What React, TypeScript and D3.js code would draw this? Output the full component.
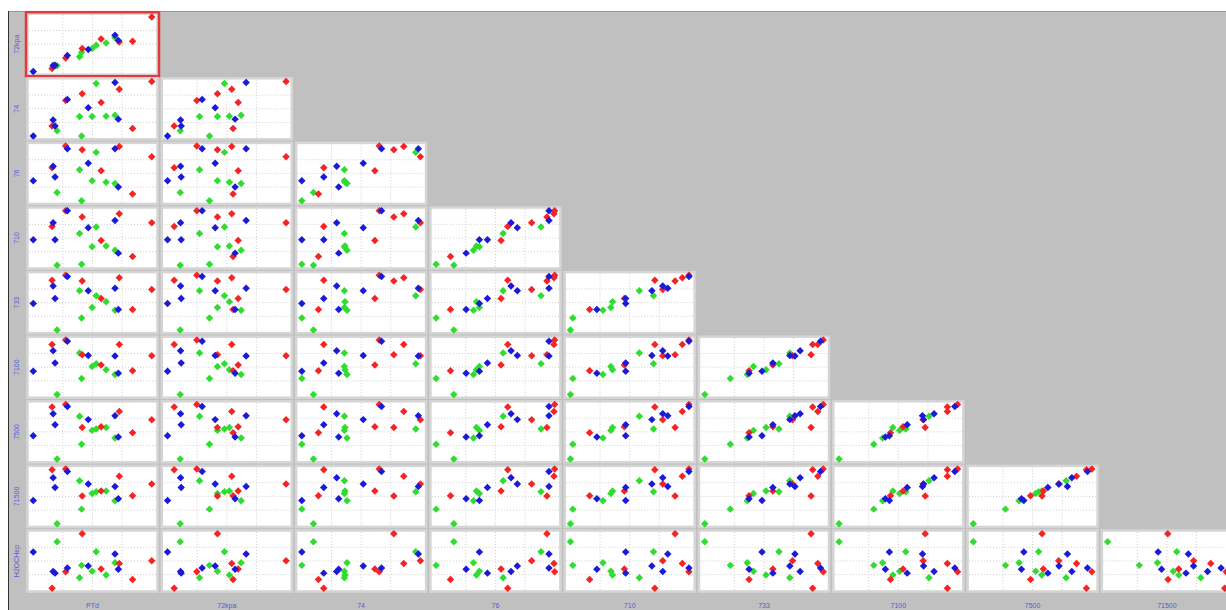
import React from "react";
import * as d3 from "d3";

// variable names (columns of the matrix = first 9, rows = last 9)
const varNames = ["PTd", "72kpa", "74", "76", "710", "733", "7100", "7500", "71500", "H2OCHep"];

// group of each observation
const groups = ["B","G","R","G","B","G","R","B","R","R","B","B","R","B","G","B","G","R","G","G","R"];

// values per variable (one entry per observation)
const PTd    = [0, 20.1, 41.3, 53.1, 69.0, 69.0, 72.6, 71.8, 100, 83.8, 16.8, 18.4, 27.4, 28.8, 40.8, 46.4, 49.7, 57.3, 39.1, 61.5, 15.9];
const v72kpa = [0, 10.7, 42.1, 48.0, 66.3, 62.1, 54.2, 57.0, 100, 55.3, 11.0, 11.5, 24.7, 29.2, 35.4, 40.2, 42.1, 59.6, 27.0, 52.2, 5.6];
const v74    = [0, 9.8, 77.6, 96.1, 98.3, 38.1, 86.0, 31.1, 100, 14.0, 29.4, 18.5, 65.3, 67.2, 0, 51.8, 35.9, 61.6, 35.9, 36.4, 18.5];
const v76    = [36.5, 14.9, 93.5, 88.5, 95.2, 31.5, 99.4, 25.3, 80.6, 12.1, 63.2, 43.3, 100, 95.2, 0, 68.5, 36.5, 54.8, 56.5, 34.0, 60.4];
const v710   = [46.6, 0, 88.3, 70.1, 82.1, 27.4, 94.4, 22.3, 77.9, 16.2, 77.9, 46.6, 100, 100, 2.0, 68.7, 34.1, 45.5, 58.1, 35.5, 71.2];
const v733   = [48.3, 0, 89.7, 62.6, 76.1, 35.9, 95.4, 37.4, 74.1, 37.4, 80.5, 57.5, 100, 97.7, 21.6, 71.8, 41.1, 57.5, 71.8, 51.7, 91.1];
const v7100  = [42.5, 0, 72.7, 56.3, 70.4, 36.8, 91.4, 39.1, 71.0, 43.4, 80.2, 57.5, 100, 97.7, 29.3, 71.3, 51.1, 54.0, 75.9, 45.4, 91.4];
const v7500  = [42.6, 0, 58.0, 55.1, 79.4, 38.6, 87.1, 40.6, 72.0, 48.3, 83.1, 62.9, 100, 96.3, 27.1, 72.3, 52.6, 59.1, 78.3, 57.7, 95.4];
const v71500 = [42.6, 0, 50.7, 58.3, 68.1, 42.0, 87.0, 45.5, 72.5, 51.0, 84.3, 66.1, 100, 95.7, 26.7, 72.5, 55.4, 60.0, 78.6, 60.0, 98.8];
const H2O    = [66.3, 85.2, 100, 66.9, 62.7, 46.7, 45.6, 34.9, 50.3, 16.0, 30.8, 27.8, 30.2, 37.3, 42.0, 40.8, 31.4, 35.5, 19.5, 24.3, 0];

const columns = [PTd, v72kpa, v74, v76, v710, v733, v7100, v7500, v71500, H2O];

// grid tick values (in data units)
const gridTicks = [25, 50, 75];

const groupColor: Record<string, string> = { G: "#2fdc2f", R: "#f52424", B: "#1a1ad8" };
const drawOrder = ["G", "R", "B"];

const W = 1226, H = 610;
const X0 = 27.5, PX = 134.3, CW = 130;
const Y0 = 13.7, PY = 64.6, CH = 61;
const labelColor = "#5a5ad6";

function domainOf(vals: number[]): [number, number] {
  const [mn, mx] = d3.extent(vals) as [number, number];
  const pad = (mx - mn) * 0.04;
  return [mn - pad, mx + pad];
}

const marker = d3.symbol(d3.symbolSquare, 28)()!;

export default function App() {
  const nRows = 9;
  const cells: React.ReactNode[] = [];
  for (let r = 0; r < nRows; r++) {
    for (let c = 0; c <= r; c++) {
      const xv = columns[c];
      const yv = columns[r + 1];
      const cx = X0 + PX * c;
      const cy = Y0 + PY * r;
      const x = d3.scaleLinear().domain(domainOf(xv)).range([cx + 1, cx + CW - 1]);
      const y = d3.scaleLinear().domain(domainOf(yv)).range([cy + CH - 1, cy + 1]);
      const idx = d3.range(groups.length).sort(
        (a, b) => drawOrder.indexOf(groups[a]) - drawOrder.indexOf(groups[b])
      );
      cells.push(
        <g key={`${r}-${c}`}>
          <rect x={cx} y={cy} width={CW} height={CH} fill="#ffffff" stroke="#d5d5d5" strokeWidth={2.5} />
          {gridTicks.map((t) => (
            <line key={`vx${t}`} x1={x(t)} x2={x(t)} y1={cy + 1.5} y2={cy + CH - 1.5}
              stroke="#cfcfcf" strokeWidth={1} strokeDasharray="1 2" />
          ))}
          {gridTicks.map((t) => (
            <line key={`hy${t}`} x1={cx + 1.5} x2={cx + CW - 1.5} y1={y(t)} y2={y(t)}
              stroke="#cfcfcf" strokeWidth={1} strokeDasharray="1 2" />
          ))}
          {idx.map((i) => (
            <path key={i} d={marker}
              transform={`translate(${x(xv[i])},${y(yv[i])}) rotate(45)`}
              fill={groupColor[groups[i]]} />
          ))}
          {r === 0 && c === 0 && (
            <rect x={cx - 1.5} y={cy - 1.5} width={CW + 3} height={CH + 3} fill="none"
              stroke="#e03a3a" strokeWidth={2.5} />
          )}
        </g>
      );
    }
  }

  return (
    <svg width={W} height={H} style={{ position: "absolute", left: 0, top: 0 }}
      fontFamily="'Liberation Sans', Arial, sans-serif">
      <rect x={0} y={0} width={W} height={H} fill="#ffffff" />
      <rect x={8} y={11} width={W - 8} height={H - 11} fill="#c0c0c0" />
      <line x1={8} x2={W} y1={11.5} y2={11.5} stroke="#9a9a9a" strokeWidth={1} />
      <line x1={8.5} x2={8.5} y1={11} y2={H} stroke="#303030" strokeWidth={1} />
      {cells}
      {d3.range(nRows).map((r) => {
        const cy = Y0 + PY * r + CH / 2;
        return (
          <text key={`yl${r}`} transform={`translate(19,${cy}) rotate(-90)`} textAnchor="middle"
            fontSize={7} fill={labelColor}>{varNames[r + 1]}</text>
        );
      })}
      {d3.range(nRows).map((c) => {
        const cx = X0 + PX * c + CW / 2;
        return (
          <text key={`xl${c}`} x={cx} y={607.5} textAnchor="middle" fontSize={7} fill={labelColor}>
            {varNames[c]}
          </text>
        );
      })}
    </svg>
  );
}
